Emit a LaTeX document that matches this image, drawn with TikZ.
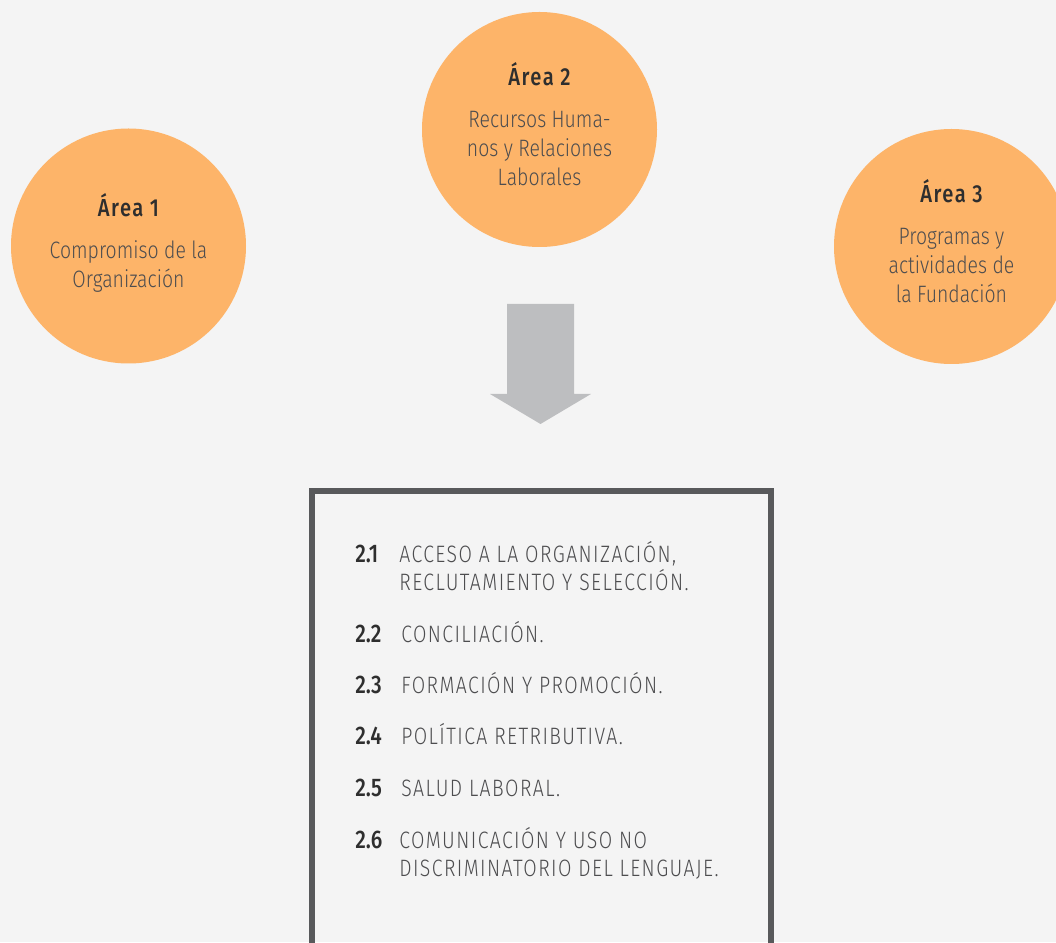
\documentclass[tikz,border=0pt]{standalone}
\usepackage{fontspec}
\setmainfont{Fira Sans}[UprightFont=* Light, BoldFont=* Medium, FakeStretch=0.82]
\usepackage{xcolor}
\usetikzlibrary{positioning}
\definecolor{bgGray}{HTML}{F4F4F4}
\definecolor{areaOrange}{HTML}{FDB469}
\definecolor{arrowGray}{HTML}{BDBEC0}
\definecolor{frameGray}{HTML}{58595B}
\definecolor{textGray}{HTML}{4D4D4F}
\definecolor{headGray}{HTML}{2E2E2E}
\newcommand{\areahead}[1]{{\fontsize{14}{16.5}\selectfont\bfseries
  \addfontfeatures{LetterSpace=6}\color{headGray}#1}\\[7.5pt]}
% extra depth under the last line so the text sits a little high
\newcommand{\areaend}{\rule[-6pt]{0pt}{6pt}}

\begin{document}
\begin{tikzpicture}[
  areacircle/.style={circle, fill=areaOrange, minimum size=4.7cm,
              inner sep=0pt, align=center, text=textGray,
              font=\fontsize{13.5}{16.5}\selectfont},
  listbox/.style={draw=frameGray, line width=0.12cm, minimum width=9.17cm,
              minimum height=10.02cm},
  itemnum/.style={anchor=base west, inner sep=0pt, text=headGray,
              font=\fontsize{14.5}{16}\selectfont\bfseries},
  itemtext/.style={anchor=base west, inner sep=0pt, align=left, text=textGray,
              font=\fontsize{13.5}{16}\selectfont\addfontfeatures{LetterSpace=6}}
]
  \useasboundingbox (0,0) rectangle (21.12,18.84);
  \clip (0,0) rectangle (21.12,18.84);
  \fill[bgGray] (0,0) rectangle (21.12,18.84);

  % The three areas
  \node[areacircle] (area1) at (2.57,13.92)
    {\areahead{Área 1}Compromiso de la\\Organización\areaend};
  \node[areacircle] (area2) at (10.79,16.25)
    {\areahead{Área 2}Recursos Huma-\\nos y Relaciones\\Laborales\areaend};
  \node[areacircle] (area3) at (19.03,13.91)
    {\areahead{Área 3}Programas y\\actividades de\\la Fundación\areaend};

  % Block arrow down to the list
  \fill[arrowGray] (10.14,12.76) -- (11.48,12.76) -- (11.48,10.96)
    -- (11.82,10.96) -- (10.81,10.36) -- (9.80,10.96) -- (10.14,10.96) -- cycle;

  % List of area 2 topics (two-line items sit on their last baseline)
  \node[listbox] (list) at (10.825,4.01) {};

  \node[itemnum] (n21) at (7.10,7.586) {2.1};
  \node[itemtext] (t21) at (7.98,7.026)
    {ACCESO A LA ORGANIZACIÓN,\\RECLUTAMIENTO Y SELECCIÓN.};
  \node[itemnum] (n22) at (7.10,5.986) {2.2};
  \node[itemtext] (t22) at (8.02,5.986) {CONCILIACIÓN.};
  \node[itemnum] (n23) at (7.10,4.96) {2.3};
  \node[itemtext] (t23) at (8.02,4.96) {FORMACIÓN Y PROMOCIÓN.};
  \node[itemnum] (n24) at (7.10,3.94) {2.4};
  \node[itemtext] (t24) at (8.02,3.94) {POLÍTICA RETRIBUTIVA.};
  \node[itemnum] (n25) at (7.10,2.906) {2.5};
  \node[itemtext] (t25) at (8.02,2.906) {SALUD LABORAL.};
  \node[itemnum] (n26) at (7.10,1.874) {2.6};
  \node[itemtext] (t26) at (7.98,1.306)
    {COMUNICACIÓN Y USO NO\\DISCRIMINATORIO DEL LENGUAJE.};
\end{tikzpicture}
\end{document}
